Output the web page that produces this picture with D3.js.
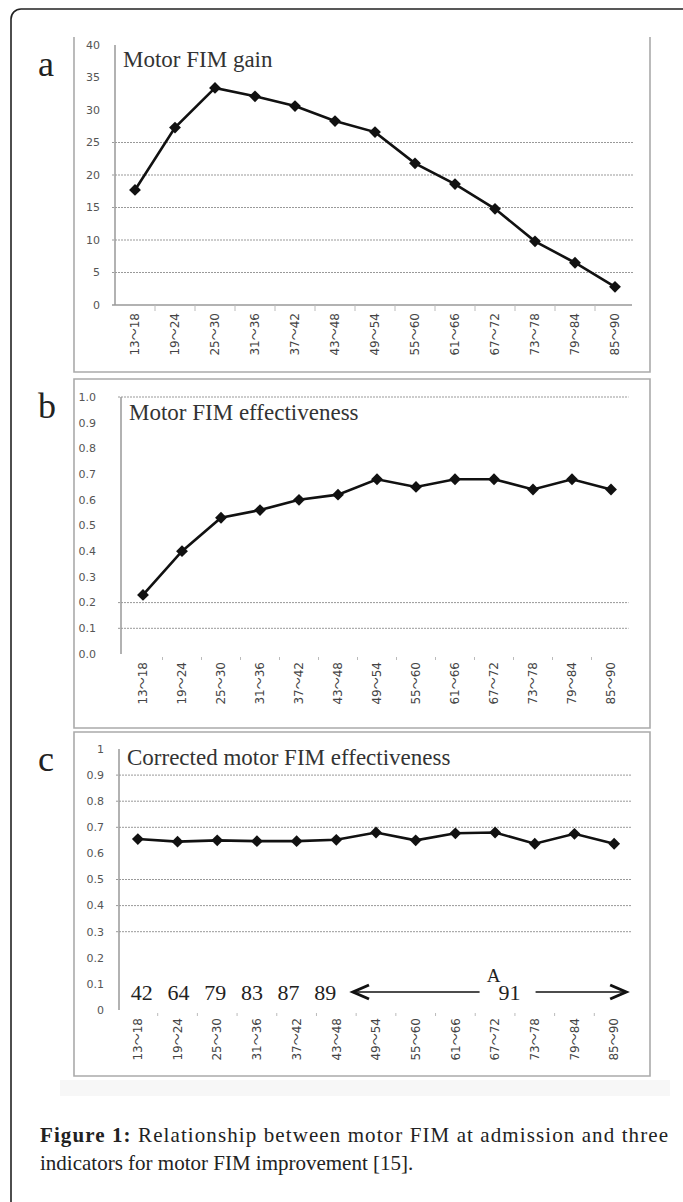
<!DOCTYPE html>
<html>
<head>
<meta charset="utf-8">
<script src="https://cdn.jsdelivr.net/npm/d3@7"></script>
<style>
  body { margin: 0; background: #fff; }
  svg { display: block; }
</style>
</head>
<body>
<div id="chart"></div>
<script>
// age groups (motor FIM at admission)
const categories = ['13～18', '19～24', '25～30', '31～36', '37～42', '43～48', '49～54',
  '55～60', '61～66', '67～72', '73～78', '79～84', '85～90'];

const gainValues = [17.7, 27.3, 33.4, 32.1, 30.6, 28.3, 26.6, 21.8, 18.6, 14.8, 9.8, 6.5, 2.8];
const effValues = [0.23, 0.40, 0.53, 0.56, 0.60, 0.62, 0.68, 0.65, 0.68, 0.68, 0.64, 0.68, 0.64];
const corrValues = [0.655, 0.645, 0.65, 0.647, 0.647, 0.652, 0.68, 0.65, 0.677, 0.68, 0.637, 0.675, 0.637];

const gainTicks = [0, 5, 10, 15, 20, 25, 30, 35, 40];
const gainGrid = [5, 10, 15, 20, 25];
const effTicks = [0, 0.1, 0.2, 0.3, 0.4, 0.5, 0.6, 0.7, 0.8, 0.9, 1.0];
const effGrid = [0.1, 0.2, 1.0];
const corrGrid = [0.3, 0.4, 0.5, 0.7, 0.8, 0.9];

const countLabels = ['42', '64', '79', '83', '87', '89'];
const countRest = '91';

const W = 683, H = 1202;
const svg = d3.select('#chart').append('svg')
    .attr('width', W)
    .attr('height', H);

// outer figure frame
svg.append('rect')
    .attr('x', 11).attr('y', 9)
    .attr('width', 700).attr('height', 1300)
    .attr('rx', 10)
    .attr('fill', 'none')
    .attr('stroke', '#222')
    .attr('stroke-width', 1.6);

const panels = [
    { letter: 'a', title: 'Motor FIM gain', values: gainValues, ticks: gainTicks, grid: gainGrid,
      frame: [74, 37, 650, 372], top: false, letterY: 76, titleY: 67,
      xRange: [115, 635], axisX: 115, yRange: [305, 45], domain: [0, 40],
      labelX: 100, fmt: d => d, xLine: true },
    { letter: 'b', title: 'Motor FIM effectiveness', values: effValues, ticks: effTicks, grid: effGrid,
      frame: [74, 379, 650, 728], top: true, letterY: 418, titleY: 420,
      xRange: [123.5, 630.5], axisX: 121, yRange: [654, 397], domain: [0, 1],
      labelX: 96, fmt: d3.format('.1f'), xLine: false },
    { letter: 'c', title: 'Corrected motor FIM effectiveness', values: corrValues, ticks: effTicks, grid: corrGrid,
      frame: [74, 732, 650, 1076], top: true, letterY: 771, titleY: 765,
      xRange: [118, 634], axisX: 119, yRange: [1010, 749], domain: [0, 1],
      labelX: 104, fmt: d => (d === 0 || d === 1) ? String(d) : d3.format('.1f')(d), xLine: false }
];

const diamond = d3.symbol(d3.symbolSquare, 70);

panels.forEach(p => {
    const g = svg.append('g');
    const [fx0, fy0, fx1, fy1] = p.frame;

    // panel box (panel a has lost its top edge)
    const box = p.top
        ? `M${fx0},${fy0}H${fx1}V${fy1}H${fx0}Z`
        : `M${fx0},${fy0}V${fy1}H${fx1}V${fy0}`;
    g.append('path')
        .attr('d', box)
        .attr('fill', 'none')
        .attr('stroke', '#aaa')
        .attr('stroke-width', 1.6);

    g.append('text')
        .attr('x', 38).attr('y', p.letterY)
        .attr('font-family', 'Liberation Serif, serif')
        .attr('font-size', 36)
        .attr('fill', '#222')
        .text(p.letter);

    const x = d3.scaleBand().domain(categories).range(p.xRange);
    const y = d3.scaleLinear().domain(p.domain).range(p.yRange);
    const y0 = y(0);

    // grid lines
    g.selectAll('.grid').data(p.grid).enter()
        .append('line')
        .attr('x1', p.axisX - 3).attr('x2', p.xRange[1] - 2)
        .attr('y1', d => y(d)).attr('y2', d => y(d))
        .attr('stroke', '#999')
        .attr('stroke-width', 1)
        .attr('stroke-dasharray', '2,1');

    // y axis
    g.append('line')
        .attr('x1', p.axisX).attr('x2', p.axisX)
        .attr('y1', y(p.domain[1])).attr('y2', y0)
        .attr('stroke', '#999')
        .attr('stroke-width', 1.5);

    g.selectAll('.ytick').data(p.ticks).enter()
        .append('text')
        .attr('x', p.labelX)
        .attr('y', d => y(d))
        .attr('dy', '0.35em')
        .attr('text-anchor', 'end')
        .attr('font-family', 'DejaVu Sans, sans-serif')
        .attr('font-size', 11)
        .attr('fill', '#555')
        .text(p.fmt);

    // x axis
    if (p.xLine) {
        g.append('line')
            .attr('x1', p.xRange[0] - 3).attr('x2', p.xRange[1] - 3)
            .attr('y1', y0).attr('y2', y0)
            .attr('stroke', '#999')
            .attr('stroke-width', 1.5);
    }
    g.selectAll('.xtick').data(categories.slice(1)).enter()
        .append('line')
        .attr('x1', d => x(d)).attr('x2', d => x(d))
        .attr('y1', y0 + (p.xLine ? 0 : 3)).attr('y2', y0 + 6)
        .attr('stroke', '#bbb')
        .attr('stroke-width', 1);

    g.selectAll('.xlabel').data(categories).enter()
        .append('text')
        .attr('transform', d => `translate(${x(d) + x.bandwidth() / 2},${y0 + 8}) rotate(-90)`)
        .attr('text-anchor', 'end')
        .attr('dy', '0.35em')
        .attr('font-family', 'DejaVu Sans, Noto Sans CJK JP, sans-serif')
        .attr('font-size', 12)
        .attr('fill', '#444')
        .text(d => d);

    g.append('text')
        .attr('x', p.axisX + 8).attr('y', p.titleY)
        .attr('font-family', 'Liberation Serif, serif')
        .attr('font-size', 23)
        .attr('fill', '#333')
        .text(p.title);

    // series
    const cx = d => x(d) + x.bandwidth() / 2;
    const line = d3.line()
        .x((d, i) => cx(categories[i]))
        .y(d => y(d));

    g.append('path')
        .datum(p.values)
        .attr('d', line)
        .attr('fill', 'none')
        .attr('stroke', '#111')
        .attr('stroke-width', 2.6);

    g.selectAll('.pt').data(p.values).enter()
        .append('path')
        .attr('d', diamond)
        .attr('transform', (d, i) => `translate(${cx(categories[i])},${y(d)}) rotate(45)`)
        .attr('fill', '#111');

    p.cx = cx;
});

// patient counts under panel c
const pc = panels[2];
const numY = 1000;
const countX = d3.scalePoint()
    .domain(countLabels)
    .range([pc.cx(categories[0]) + 4, pc.cx(categories[countLabels.length - 1]) - 11]);

svg.selectAll('.count').data(countLabels).enter()
    .append('text')
    .attr('x', d => countX(d))
    .attr('y', numY)
    .attr('text-anchor', 'middle')
    .attr('font-family', 'Liberation Serif, serif')
    .attr('font-size', 22)
    .attr('fill', '#222')
    .text(d => d);

const restCats = categories.slice(countLabels.length);
const aX0 = pc.cx(restCats[0]) - 23;
const aX1 = pc.cx(restCats[restCats.length - 1]) + 12;
const midX = (aX0 + aX1) / 2 + 20;
const arrowY = numY - 8;

svg.append('text')
    .attr('x', midX).attr('y', numY)
    .attr('text-anchor', 'middle')
    .attr('font-family', 'Liberation Serif, serif')
    .attr('font-size', 22)
    .attr('fill', '#222')
    .text(countRest);
svg.append('text')
    .attr('x', midX - 16).attr('y', numY - 18)
    .attr('text-anchor', 'middle')
    .attr('font-family', 'Liberation Serif, serif')
    .attr('font-size', 19)
    .attr('fill', '#222')
    .text('A');

const arrows = svg.append('g').attr('stroke', '#111').attr('fill', 'none');
arrows.append('line').attr('x1', aX0 + 2).attr('x2', midX - 30).attr('y1', arrowY).attr('y2', arrowY).attr('stroke-width', 1.5);
arrows.append('line').attr('x1', midX + 26).attr('x2', aX1 - 2).attr('y1', arrowY).attr('y2', arrowY).attr('stroke-width', 1.5);
arrows.append('path').attr('d', `M${aX0 + 16},${arrowY - 7}L${aX0},${arrowY}L${aX0 + 16},${arrowY + 7}`).attr('stroke-width', 3);
arrows.append('path').attr('d', `M${aX1 - 16},${arrowY - 7}L${aX1},${arrowY}L${aX1 - 16},${arrowY + 7}`).attr('stroke-width', 3);

// faint scan shadow under panel c
svg.append('rect')
    .attr('x', 60).attr('y', 1080).attr('width', 610).attr('height', 16)
    .attr('fill', '#f7f7f7');

// caption
const cap = svg.append('g')
    .attr('font-family', 'Liberation Serif, serif')
    .attr('font-size', 21)
    .attr('fill', '#222');
const l1 = cap.append('text').attr('x', 40).attr('y', 1142)
    .attr('textLength', 628).attr('lengthAdjust', 'spacing');
l1.append('tspan').attr('font-weight', 'bold').text('Figure 1:');
l1.append('tspan').text(' Relationship between motor FIM at admission and three');
cap.append('text').attr('x', 40).attr('y', 1170)
    .text('indicators for motor FIM improvement [15].');
</script>
</body>
</html>
